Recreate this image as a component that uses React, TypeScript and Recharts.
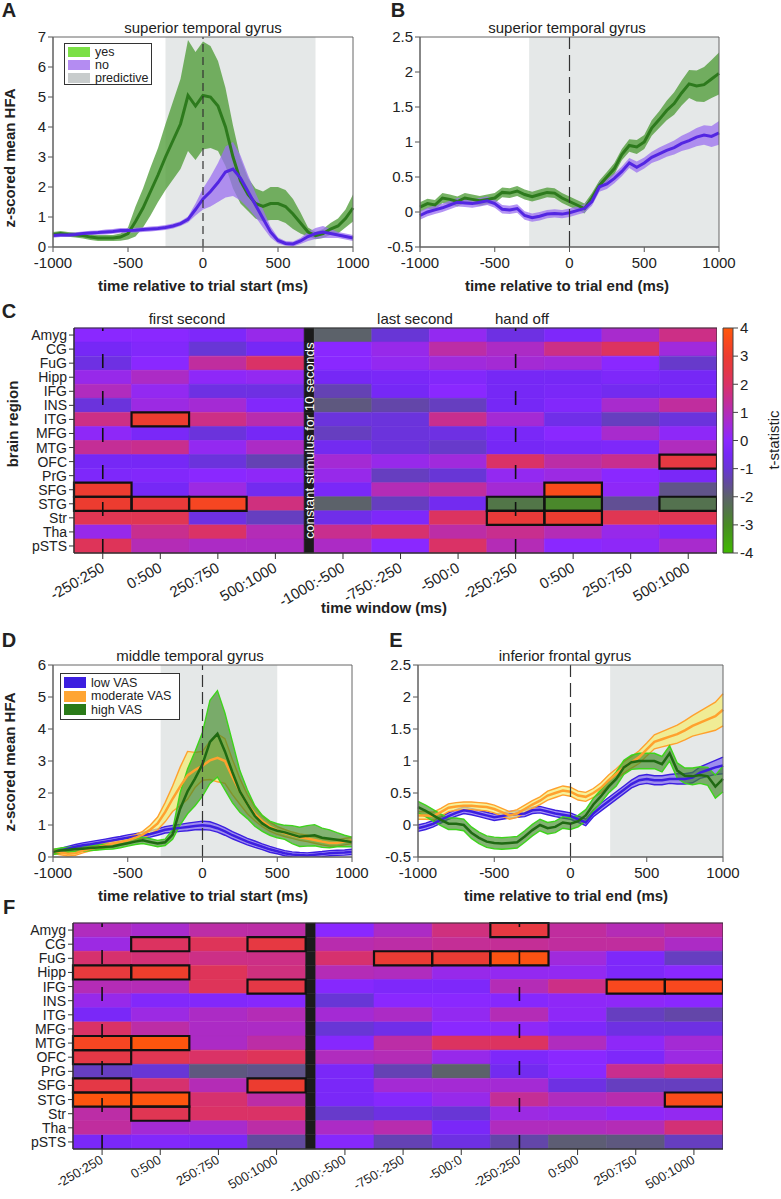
import React from "react";
import {
  ComposedChart,
  BarChart,
  Bar,
  Cell,
  Area,
  Line,
  XAxis,
  YAxis,
  ReferenceArea,
  ReferenceLine,
} from "recharts";

const FONT = "'Liberation Sans', Arial, Helvetica, sans-serif";

// ---------------------------------------------------------------------------
// time courses (ms relative to event) - every 50 ms
// ---------------------------------------------------------------------------
const TIME = [
  -1000, -950, -900, -850, -800, -750, -700, -650, -600, -550, -500,
  -450, -400, -350, -300, -250, -200, -150, -100, -50, 0,
  50, 100, 150, 200, 250, 300, 350, 400, 450, 500,
  550, 600, 650, 700, 750, 800, 850, 900, 950, 1000,
];
const TIME_TICKS = [-1000, -500, 0, 500, 1000];

// panel A - superior temporal gyrus, trial start
const A_YES_MEAN = [
  0.42, 0.45, 0.42, 0.4, 0.38, 0.33, 0.3, 0.3, 0.3, 0.33, 0.45,
  0.85, 1.3, 1.85, 2.4, 3.0, 3.55, 4.1, 5.05, 4.7, 5.05,
  5.0, 4.7, 4.0, 3.0, 2.2, 1.75, 1.45, 1.35, 1.45, 1.45,
  1.35, 1.1, 0.8, 0.5, 0.38, 0.45, 0.6, 0.7, 0.95, 1.3,
];
const A_YES_SEM = [
  0.08, 0.08, 0.08, 0.08, 0.1, 0.1, 0.1, 0.1, 0.1, 0.12, 0.2,
  0.5, 0.65, 0.8, 0.9, 1.1, 1.3, 1.5, 1.85, 1.8, 1.8,
  1.7, 1.5, 1.3, 1.05, 0.75, 0.55, 0.5, 0.5, 0.55, 0.55,
  0.55, 0.5, 0.35, 0.15, 0.12, 0.15, 0.2, 0.25, 0.3, 0.45,
];
const A_NO_MEAN = [
  0.38, 0.4, 0.4, 0.42, 0.45, 0.47, 0.48, 0.5, 0.52, 0.55, 0.55,
  0.56, 0.58, 0.6, 0.62, 0.65, 0.7, 0.78, 0.92, 1.25, 1.6,
  1.85, 2.15, 2.5, 2.6, 2.3, 1.85, 1.4, 0.95, 0.5, 0.22,
  0.12, 0.1, 0.2, 0.35, 0.45, 0.5, 0.45, 0.4, 0.35, 0.3,
];
const A_NO_SEM = [
  0.07, 0.07, 0.07, 0.07, 0.07, 0.07, 0.07, 0.08, 0.08, 0.08, 0.08,
  0.08, 0.08, 0.08, 0.08, 0.08, 0.08, 0.08, 0.1, 0.2, 0.35,
  0.5, 0.65, 0.85, 0.9, 0.75, 0.55, 0.4, 0.3, 0.18, 0.1,
  0.08, 0.08, 0.1, 0.15, 0.18, 0.2, 0.15, 0.1, 0.1, 0.1,
];

// panel B - superior temporal gyrus, trial end
const B_YES_MEAN = [
  0.07, 0.12, 0.1, 0.2, 0.18, 0.15, 0.2, 0.18, 0.16, 0.18, 0.2,
  0.28, 0.27, 0.3, 0.25, 0.22, 0.25, 0.28, 0.27, 0.2, 0.15,
  0.1, 0.05, 0.2, 0.38, 0.5, 0.62, 0.82, 0.95, 0.93, 1.0,
  1.2, 1.32, 1.45, 1.55, 1.7, 1.83, 1.8, 1.82, 1.9, 1.98,
];
const B_YES_SEM = [
  0.07, 0.07, 0.07, 0.07, 0.07, 0.07, 0.07, 0.07, 0.07, 0.07, 0.07,
  0.07, 0.07, 0.07, 0.07, 0.07, 0.07, 0.07, 0.07, 0.07, 0.07,
  0.07, 0.07, 0.07, 0.07, 0.07, 0.08, 0.08, 0.09, 0.1, 0.1,
  0.11, 0.12, 0.14, 0.16, 0.18, 0.2, 0.22, 0.25, 0.27, 0.3,
];
const B_NO_MEAN = [
  -0.05, 0.0, 0.03, 0.06, 0.1, 0.14, 0.13, 0.12, 0.14, 0.16, 0.12,
  0.04, 0.03, 0.05, -0.05, -0.08, -0.06, -0.03, -0.02, -0.03, -0.01,
  0.02, 0.05, 0.15, 0.36, 0.4, 0.48, 0.58, 0.7, 0.64, 0.7,
  0.78, 0.83, 0.88, 0.92, 0.98, 1.02, 1.07, 1.1, 1.08, 1.13,
];
const B_NO_SEM = [
  0.06, 0.06, 0.06, 0.06, 0.06, 0.06, 0.06, 0.06, 0.06, 0.06, 0.06,
  0.06, 0.06, 0.06, 0.06, 0.06, 0.06, 0.06, 0.06, 0.06, 0.06,
  0.06, 0.06, 0.06, 0.07, 0.07, 0.07, 0.07, 0.07, 0.08, 0.08,
  0.08, 0.09, 0.09, 0.1, 0.11, 0.12, 0.13, 0.14, 0.15, 0.17,
];

// panel D - middle temporal gyrus, trial start
const D_LOW_MEAN = [
  0.16, 0.2, 0.26, 0.32, 0.37, 0.4, 0.44, 0.48, 0.52, 0.56, 0.6,
  0.64, 0.68, 0.72, 0.78, 0.85, 0.88, 0.91, 0.94, 0.97, 0.99,
  0.97, 0.9, 0.8, 0.68, 0.58, 0.48, 0.4, 0.32, 0.24, 0.18,
  0.12, 0.08, 0.06, 0.05, 0.07, 0.09, 0.12, 0.13, 0.14, 0.16,
];
const D_LOW_SEM = [
  0.07, 0.07, 0.07, 0.07, 0.07, 0.08, 0.08, 0.08, 0.08, 0.08, 0.09,
  0.09, 0.09, 0.1, 0.1, 0.1, 0.11, 0.11, 0.12, 0.12, 0.13,
  0.13, 0.12, 0.12, 0.11, 0.11, 0.1, 0.1, 0.09, 0.09, 0.08,
  0.08, 0.08, 0.08, 0.08, 0.08, 0.08, 0.08, 0.08, 0.08, 0.08,
];
const D_MOD_MEAN = [
  0.18, 0.14, 0.1, 0.12, 0.2, 0.26, 0.3, 0.36, 0.42, 0.47, 0.52,
  0.6, 0.7, 0.85, 1.05, 1.4, 1.82, 2.2, 2.55, 2.72, 2.85,
  3.02, 3.1, 3.0, 2.5, 2.05, 1.65, 1.35, 1.12, 0.95, 0.83,
  0.75, 0.68, 0.62, 0.58, 0.53, 0.48, 0.44, 0.44, 0.48, 0.52,
];
const D_MOD_SEM = [
  0.07, 0.07, 0.07, 0.07, 0.07, 0.07, 0.07, 0.08, 0.08, 0.08, 0.09,
  0.09, 0.1, 0.14, 0.2, 0.3, 0.4, 0.6, 0.75, 0.55, 0.45,
  0.6, 0.75, 0.7, 0.55, 0.4, 0.3, 0.22, 0.17, 0.14, 0.12,
  0.11, 0.1, 0.1, 0.1, 0.1, 0.1, 0.1, 0.1, 0.1, 0.1,
];
const D_HIGH_MEAN = [
  0.16, 0.2, 0.23, 0.25, 0.26, 0.28, 0.3, 0.32, 0.33, 0.38, 0.43,
  0.48, 0.52, 0.47, 0.42, 0.46, 0.7, 1.5, 2.05, 2.45, 2.9,
  3.6, 3.85, 3.3, 2.65, 2.05, 1.65, 1.28, 1.05, 0.9, 0.82,
  0.77, 0.7, 0.63, 0.66, 0.68, 0.6, 0.57, 0.54, 0.5, 0.47,
];
const D_HIGH_SEM = [
  0.08, 0.08, 0.08, 0.08, 0.08, 0.08, 0.08, 0.08, 0.08, 0.09, 0.09,
  0.09, 0.1, 0.1, 0.1, 0.1, 0.15, 0.5, 0.7, 0.85, 1.0,
  1.3, 1.35, 1.2, 0.95, 0.65, 0.45, 0.32, 0.25, 0.22, 0.22,
  0.22, 0.28, 0.3, 0.32, 0.33, 0.3, 0.28, 0.22, 0.18, 0.15,
];

// panel E - inferior frontal gyrus, trial end
const E_LOW_MEAN = [
  -0.05, -0.02, 0.02, 0.08, 0.14, 0.19, 0.23, 0.21, 0.18, 0.15, 0.12,
  0.14, 0.16, 0.17, 0.18, 0.23, 0.24, 0.21, 0.18, 0.16, 0.14,
  0.09, 0.04, 0.18, 0.28, 0.37, 0.46, 0.55, 0.64, 0.7, 0.72,
  0.7, 0.7, 0.72, 0.72, 0.72, 0.74, 0.82, 0.86, 0.9, 0.93,
];
const E_LOW_SEM = [
  0.05, 0.05, 0.05, 0.05, 0.05, 0.05, 0.05, 0.05, 0.05, 0.05, 0.05,
  0.05, 0.05, 0.05, 0.05, 0.05, 0.05, 0.05, 0.05, 0.05, 0.05,
  0.05, 0.05, 0.05, 0.06, 0.06, 0.06, 0.06, 0.06, 0.07, 0.07,
  0.07, 0.07, 0.07, 0.08, 0.08, 0.08, 0.09, 0.1, 0.11, 0.13,
];
const E_MOD_MEAN = [
  0.15, 0.15, 0.14, 0.2, 0.27, 0.29, 0.3, 0.3, 0.29, 0.28, 0.25,
  0.2, 0.15, 0.18, 0.25, 0.32, 0.38, 0.46, 0.5, 0.54, 0.52,
  0.46, 0.44, 0.5, 0.58, 0.7, 0.8, 0.9, 0.98, 1.06, 1.18,
  1.3, 1.34, 1.38, 1.42, 1.48, 1.55, 1.6, 1.65, 1.7, 1.8,
];
const E_MOD_SEM = [
  0.06, 0.06, 0.06, 0.06, 0.06, 0.06, 0.06, 0.06, 0.06, 0.06, 0.06,
  0.06, 0.06, 0.06, 0.06, 0.06, 0.06, 0.07, 0.07, 0.07, 0.07,
  0.07, 0.07, 0.07, 0.08, 0.08, 0.08, 0.09, 0.09, 0.1, 0.1,
  0.11, 0.12, 0.13, 0.14, 0.15, 0.16, 0.18, 0.2, 0.22, 0.25,
];
const E_HIGH_MEAN = [
  0.28, 0.22, 0.15, 0.08, 0.02, 0.02, 0.0, -0.12, -0.2, -0.26, -0.28,
  -0.29, -0.28, -0.27, -0.18, -0.08, 0.0, -0.05, -0.03, 0.04, 0.02,
  0.06, 0.15, 0.32, 0.45, 0.6, 0.72, 0.9, 0.98, 1.0, 1.0,
  1.0, 0.95, 1.12, 0.85, 0.77, 0.76, 0.78, 0.76, 0.6, 0.72,
];
const E_HIGH_SEM = [
  0.09, 0.09, 0.09, 0.09, 0.09, 0.09, 0.09, 0.09, 0.09, 0.09, 0.09,
  0.09, 0.09, 0.09, 0.09, 0.09, 0.09, 0.09, 0.09, 0.09, 0.09,
  0.09, 0.09, 0.1, 0.1, 0.1, 0.11, 0.11, 0.11, 0.12, 0.12,
  0.12, 0.12, 0.12, 0.12, 0.12, 0.13, 0.13, 0.14, 0.18, 0.2,
];

// ---------------------------------------------------------------------------
// heatmaps (t-statistic per region x time window)
// ---------------------------------------------------------------------------
const REGIONS = [
  "Amyg", "CG", "FuG", "Hipp", "IFG", "INS", "ITG", "MFG",
  "MTG", "OFC", "PrG", "SFG", "STG", "Str", "Tha", "pSTS",
];
const WINDOWS = [
  "-250:250", "0:500", "250:750", "500:1000",
  "-1000:-500", "-750:-250", "-500:0", "-250:250", "0:500", "250:750", "500:1000",
];

const C_TSTAT = [
  [0, 0, -0.3, 0.3, -2, -1, 0.2, -0.8, -0.3, 0.7, 1.6],
  [-0.5, -0.2, -1, -0.5, 0, 0.3, 1.2, 0.8, 1.6, 2.1, 0.5],
  [-0.8, 0, 1.3, 2, 0, 0.2, 0.5, 0.6, 0.5, 0, -1.1],
  [0.3, 0.8, 0.1, 0.2, -0.5, -0.4, -0.2, -0.5, -0.5, -0.3, -0.5],
  [0.9, 0.2, -0.8, -0.8, -1.3, -0.5, 0, -0.5, -0.4, -0.6, -0.5],
  [-0.9, 0.4, 0.6, -0.2, -1.8, -1.4, -1.2, -0.5, -0.2, 0.7, 1.3],
  [1.6, 3.0, 1.6, 1.1, -0.9, -0.9, 1.5, 0.6, -0.7, -1.2, -0.9],
  [0.1, -0.4, -0.9, -0.5, -1.2, -0.9, -0.8, -0.4, 0, 0.7, 0.1],
  [1.4, 1.5, 0.2, 0.8, -0.6, -0.9, -1.1, -0.5, -0.4, -0.3, 0.9],
  [-0.5, -0.5, -0.9, -1.3, 0.6, 0.3, 0.5, 2.0, 1.2, 1.5, 2.6],
  [-0.3, -0.2, 0, 0.1, 0.3, -1.2, -1.0, 0.2, 0.4, 0, -0.4],
  [3.0, -0.5, 0.4, -0.6, -0.4, 1.0, 1.3, 0.6, 3.6, 0.1, -1.7],
  [3.0, 2.8, 3.4, 1.7, -2.0, -1.2, -0.6, -2.5, -2.9, -1.6, -2.4],
  [2.3, 2.3, -0.8, -1.2, -0.7, -0.3, 2.1, 2.8, 3.0, 2.3, 2.3],
  [0.3, 1.5, 2.0, 1.0, 1.5, 1.9, 1.2, 1.5, 1.0, 0.3, -0.3],
  [2.2, 1.0, 0.8, 0.8, 0.8, 0, 2.0, 1.0, 0, 0.1, 0.7],
];
// significant cells: [region index, window index]
const C_SIG = [
  [6, 1], [11, 0], [12, 0], [12, 1], [12, 2],
  [9, 10], [11, 8], [12, 7], [12, 8], [12, 10], [13, 7], [13, 8],
];

const F_TSTAT = [
  [0.9, 0.7, 1.2, 1.2, 0, 0.8, 1.7, 2.6, 1.3, 1.0, 1.3],
  [0.4, 2.1, 2.2, 2.6, 1.1, 1.2, 1.4, 1.4, 1.3, 1.3, 0.8],
  [1.9, 1.8, 1.6, 1.6, 1.9, 2.9, 2.9, 3.8, 0.5, -0.3, -1.2],
  [2.7, 3.1, 2.2, 1.7, 1.0, 0.9, 0.3, 0.2, 0.2, -0.3, 0],
  [1.0, 1.0, 2.2, 2.5, -0.1, -0.3, -0.3, 1.0, 1.6, 3.5, 3.5],
  [0.3, -0.2, -0.2, -0.1, -1.0, 0, 0, -0.1, 0.1, 0.1, 0],
  [-0.4, 0.4, 0.8, 1.0, 0.6, 0.8, 0.2, 1.0, 0.1, -1.2, -1.4],
  [2.0, 1.2, 0.8, 0.8, -1.0, -0.7, 0, 0.1, -0.3, -0.8, -0.8],
  [3.4, 3.9, 0.8, 1.2, -0.1, 1.2, 2.1, 2.1, 0.9, 0.1, 0.6],
  [2.5, 2.3, 2.0, 2.2, 0.9, 1.0, 0.3, -0.3, 0, -0.3, 0.4],
  [-1.2, -1.0, -1.8, -1.7, -0.4, -1.3, -2.0, -0.6, 0, 1.5, 1.9],
  [2.5, 1.9, 1.0, 3.0, -0.4, 0.6, 0.6, 0.6, -0.8, -1.2, -1.2],
  [3.9, 3.9, 1.9, 1.2, -0.4, -0.1, 0.3, 1.4, 0.9, 1.1, 3.6],
  [1.2, 2.3, 2.0, 2.0, -1.1, -0.8, -1.0, 0.4, 0.3, 0.1, 0.2],
  [1.3, 0.6, 0.7, 1.2, 0.8, 1.1, -0.4, 0.9, 0.9, 1.0, 1.8],
  [-0.4, -0.2, -0.4, -1.5, -0.1, -1.3, -0.8, -1.4, -1.9, -1.8, -1.2],
];
const F_SIG = [
  [0, 7], [1, 1], [1, 3], [2, 5], [2, 6], [2, 7], [3, 0], [3, 1],
  [4, 3], [4, 9], [4, 10], [8, 0], [8, 1], [9, 0], [11, 0], [11, 3],
  [12, 0], [12, 1], [12, 10], [13, 1],
];

const CBAR_TICKS = [-4, -3, -2, -1, 0, 1, 2, 3, 4];

// colormap stops: t-statistic -> rgb
const T_STOPS: [number, number[]][] = [
  [-4, [64, 186, 0]],
  [-3, [72, 140, 36]],
  [-2.5, [82, 118, 72]],
  [-2, [92, 98, 106]],
  [-1.5, [98, 74, 158]],
  [-1, [104, 54, 214]],
  [-0.5, [118, 40, 246]],
  [0, [138, 40, 255]],
  [0.5, [160, 42, 220]],
  [1, [180, 44, 182]],
  [1.5, [200, 46, 142]],
  [2, [218, 50, 102]],
  [2.5, [228, 56, 70]],
  [3, [236, 60, 48]],
  [3.5, [248, 72, 30]],
  [4, [255, 88, 10]],
];

function tColor(t: number) {
  const v = Math.max(-4, Math.min(4, t));
  for (let i = 0; i < T_STOPS.length - 1; i++) {
    const [t0, c0] = T_STOPS[i];
    const [t1, c1] = T_STOPS[i + 1];
    if (v >= t0 && v <= t1) {
      const f = (v - t0) / (t1 - t0);
      const c = c0.map((a, j) => Math.round(a + (c1[j] - a) * f));
      return `rgb(${c.join(",")})`;
    }
  }
  return "rgb(138,40,255)";
}

// the black "constant stimulus" gap, in units of one window column
const GAP = 0.175;
const X_MAX = WINDOWS.length + GAP;
const colStart = (k: number) => (k < 4 ? k : k + GAP);
const HEAT_TICKS = WINDOWS.map((_, k) => colStart(k) + 0.5);

// ---------------------------------------------------------------------------
// helpers
// ---------------------------------------------------------------------------
type Series = {
  key: string;
  mean: number[];
  sem: number[];
  line: string;
  band: string;
  bandOpacity: number;
  edge?: string;
  width: number;
};

function buildRows(series: Series[]) {
  return TIME.map((t, i) => {
    const row: Record<string, any> = { t };
    series.forEach((s) => {
      row[s.key] = s.mean[i];
      row[s.key + "Band"] = [s.mean[i] - s.sem[i], s.mean[i] + s.sem[i]];
    });
    return row;
  });
}

function Txt({ x, y, children, size = 15, weight = 400, rotate = 0, color = "#222" }: any) {
  return (
    <div
      style={{
        position: "absolute",
        left: x,
        top: y,
        transform: `translate(-50%, -50%) rotate(${rotate}deg)`,
        fontSize: size,
        fontWeight: weight,
        color,
        whiteSpace: "nowrap",
        lineHeight: 1,
      }}
    >
      {children}
    </div>
  );
}

function LegendBox({ x, y, w, h, items, rowGap, swH }: any) {
  return (
    <div
      style={{
        position: "absolute",
        left: x,
        top: y,
        width: w,
        height: h,
        border: "1px solid #333",
        background: "#fff",
        boxSizing: "border-box",
      }}
    >
      {items.map((it: any, i: number) => (
        <div
          key={it.label}
          style={{
            position: "absolute",
            left: 3,
            top: 2 + i * rowGap,
            height: rowGap,
            display: "flex",
            alignItems: "center",
            fontSize: 12.5,
            color: "#222",
            whiteSpace: "nowrap",
          }}
        >
          <span style={{ width: 22, height: swH, background: it.color, marginRight: 5, display: "inline-block" }} />
          {it.label}
        </div>
      ))}
    </div>
  );
}

const tickStyle = { fontSize: 15, fill: "#222" };
const rowTickStyle = { fontSize: 14, fill: "#222" };

function LinePanel({
  left, top, width, height, marginTop, marginRight, yAxisWidth, xAxisHeight,
  series, yDomain, yTicks, shade, dash,
}: any) {
  const rows = buildRows(series);
  return (
    <div style={{ position: "absolute", left, top }}>
      <ComposedChart
        width={width}
        height={height}
        data={rows}
        margin={{ top: marginTop, right: marginRight, bottom: 0, left: 0 }}
      >
        <ReferenceArea
          x1={shade[0]}
          x2={shade[1]}
          y1={yDomain[0]}
          y2={yDomain[1]}
          fill="#e5e8e8"
          fillOpacity={1}
          stroke="none"
          zIndex={-20}
        />
        <XAxis
          type="number"
          dataKey="t"
          domain={[-1000, 1000]}
          ticks={TIME_TICKS}
          height={xAxisHeight}
          tick={tickStyle}
          stroke="#555"
          tickSize={5}
          tickMargin={5}
        />
        <YAxis
          type="number"
          domain={yDomain}
          ticks={yTicks}
          width={yAxisWidth}
          allowDataOverflow
          tick={tickStyle}
          stroke="#555"
          tickSize={5}
        />
        {series.map((s: Series) => (
          <Area
            key={s.key + "Band"}
            dataKey={s.key + "Band"}
            type="linear"
            fill={s.band}
            fillOpacity={s.bandOpacity}
            stroke={s.edge ?? "none"}
            strokeWidth={1.4}
            dot={false}
            activeDot={false}
            isAnimationActive={false}
          />
        ))}
        {series.map((s: Series) => (
          <Line
            key={s.key}
            dataKey={s.key}
            type="linear"
            stroke={s.line}
            strokeWidth={s.width}
            dot={false}
            activeDot={false}
            isAnimationActive={false}
          />
        ))}
        <ReferenceLine x={0} stroke="#333" strokeWidth={1.2} strokeDasharray={dash} zIndex={450} />
        <ReferenceArea
          x1={-1000}
          x2={1000}
          y1={yDomain[0]}
          y2={yDomain[1]}
          fill="none"
          stroke="#666"
          strokeWidth={1}
          zIndex={700}
        />
      </ComposedChart>
    </div>
  );
}

function WindowTick({ x, y, payload, fs = 15, lift = 0 }: any) {
  let k = HEAT_TICKS.indexOf(payload.value);
  if (k < 0) {
    let best = Infinity;
    HEAT_TICKS.forEach((v, i) => {
      if (Math.abs(v - payload.value) < best) {
        best = Math.abs(v - payload.value);
        k = i;
      }
    });
  }
  return (
    <g transform={`translate(${x - 3},${y - lift}) rotate(-30)`}>
      <text textAnchor="end" dy="0.75em" fontSize={fs} fill="#222">
        {WINDOWS[k]}
      </text>
    </g>
  );
}

function Heatmap({
  left, top, width, height, marginTop, marginRight, yAxisWidth, xAxisHeight, tstat, sig, stimText, tickFont, tickLift,
}: any) {
  const rows = REGIONS.map((region) => {
    const row: Record<string, any> = { region, gap: GAP };
    WINDOWS.forEach((_, k) => (row["c" + k] = 1));
    return row;
  });
  const bars: React.ReactNode[] = [];
  WINDOWS.forEach((_, k) => {
    if (k === 4) {
      bars.push(
        <Bar key="gap" dataKey="gap" stackId="h" fill="#1b1b1b" stroke="#1b1b1b" strokeWidth={0.6} isAnimationActive={false} />
      );
    }
    bars.push(
      <Bar key={"c" + k} dataKey={"c" + k} stackId="h" isAnimationActive={false}>
        {REGIONS.map((r, i) => {
          const c = tColor(tstat[i][k]);
          return <Cell key={r} fill={c} stroke={c} strokeWidth={0.6} />;
        })}
      </Bar>
    );
  });
  return (
    <div style={{ position: "absolute", left, top }}>
      <BarChart
        layout="vertical"
        width={width}
        height={height}
        data={rows}
        barCategoryGap={0}
        barGap={0}
        margin={{ top: marginTop, right: marginRight, bottom: 0, left: 0 }}
      >
        <XAxis
          type="number"
          domain={[0, X_MAX]}
          ticks={HEAT_TICKS}
          height={xAxisHeight}
          tick={<WindowTick fs={tickFont} lift={tickLift} />}
          stroke="#333"
          tickSize={6}
          interval={0}
        />
        <YAxis
          type="category"
          dataKey="region"
          width={yAxisWidth}
          tick={rowTickStyle}
          stroke="#333"
          tickSize={5}
          interval={0}
        />
        {bars}
        {stimText && (
          <ReferenceArea
            x1={4}
            x2={4 + GAP}
            y1={REGIONS[0]}
            y2={REGIONS[REGIONS.length - 1]}
            fill="none"
            stroke="none"
            zIndex={800}
            label={{ value: stimText, angle: -90, position: "center", fill: "#fff", fontSize: 13.5 }}
          />
        )}
        {sig.map(([r, k]: number[]) => (
          <ReferenceArea
            key={`${r}-${k}`}
            x1={colStart(k)}
            x2={colStart(k) + 1}
            y1={REGIONS[r]}
            y2={REGIONS[r]}
            fill="none"
            stroke="#111"
            strokeWidth={2.2}
            zIndex={600}
          />
        ))}
        <ReferenceLine x={HEAT_TICKS[0]} stroke="#111" strokeWidth={1.6} strokeDasharray="14 23" zIndex={650} />
        <ReferenceLine x={HEAT_TICKS[7]} stroke="#111" strokeWidth={1.6} strokeDasharray="14 23" zIndex={650} />
        <ReferenceArea
          x1={0}
          x2={X_MAX}
          y1={REGIONS[0]}
          y2={REGIONS[REGIONS.length - 1]}
          fill="none"
          stroke="#333"
          strokeWidth={1}
          zIndex={700}
        />
      </BarChart>
    </div>
  );
}

function ColorBar() {
  const data = [{ name: "t", range: [CBAR_TICKS[0], CBAR_TICKS[CBAR_TICKS.length - 1]] }];
  return (
    <div style={{ position: "absolute", left: 715, top: 300 }}>
      <BarChart width={66} height={320} data={data} barCategoryGap={0} margin={{ top: 28, right: 8, bottom: 67, left: 8 }}>
        <defs>
          <linearGradient id="tstatGrad" x1="0" y1="0" x2="0" y2="1">
            {T_STOPS.slice()
              .reverse()
              .map(([t, c]) => (
                <stop key={t} offset={`${((4 - t) / 8) * 100}%`} stopColor={`rgb(${c.join(",")})`} />
              ))}
          </linearGradient>
        </defs>
        <XAxis type="category" dataKey="name" hide />
        <YAxis
          type="number"
          orientation="right"
          domain={[-4, 4]}
          ticks={CBAR_TICKS}
          width={40}
          tick={tickStyle}
          stroke="#444"
          axisLine={false}
          tickSize={5}
        />
        <Bar dataKey="range" fill="url(#tstatGrad)" stroke="#444" strokeWidth={1} isAnimationActive={false} />
      </BarChart>
    </div>
  );
}

// ---------------------------------------------------------------------------
// series styles
// ---------------------------------------------------------------------------
const YES = { line: "#2d7a1d", band: "#4a9a32", bandOpacity: 0.75, width: 3 };
const NO = { line: "#5326e2", band: "#9b70f0", bandOpacity: 0.75, width: 3 };
const LOW = { line: "#3c1fe0", band: "#8068f0", bandOpacity: 0.7, edge: "#3c1fe0", width: 2.5 };
const MOD = { line: "#ffa12e", band: "#f3ee7a", bandOpacity: 0.75, edge: "#ffa12e", width: 2.5 };
const HIGH = { line: "#1f6a12", band: "#3f8a26", bandOpacity: 0.65, edge: "#3ed41c", width: 2.5 };

export default function App() {
  return (
    <div
      style={{
        position: "absolute",
        left: 0,
        top: 0,
        width: 781,
        height: 1199,
        background: "#fff",
        fontFamily: FONT,
        color: "#222",
        overflow: "hidden",
      }}
    >
      {/* ---------------- A ---------------- */}
      <LinePanel
        left={0}
        top={0}
        width={380}
        height={300}
        marginTop={37}
        marginRight={27}
        yAxisWidth={53}
        xAxisHeight={53}
        yDomain={[0, 7]}
        yTicks={[0, 1, 2, 3, 4, 5, 6, 7]}
        shade={[-250, 750]}
        dash="8 5"
        series={[
          { key: "yes", mean: A_YES_MEAN, sem: A_YES_SEM, ...YES },
          { key: "no", mean: A_NO_MEAN, sem: A_NO_SEM, ...NO },
        ]}
      />
      <LegendBox
        x={64}
        y={43}
        w={88}
        h={42}
        rowGap={12.8}
        swH={10}
        items={[
          { label: "yes", color: "#7be045" },
          { label: "no", color: "#b48cf2" },
          { label: "predictive", color: "#c8cccc" },
        ]}
      />
      <Txt x={9} y={10} size={20} weight={700}>A</Txt>
      <Txt x={203} y={27}>superior temporal gyrus</Txt>
      <Txt x={203} y={285} weight={700}>time relative to trial start (ms)</Txt>
      <Txt x={9} y={158} weight={700} rotate={-90}>z-scored mean HFA</Txt>

      {/* ---------------- B ---------------- */}
      <LinePanel
        left={370}
        top={0}
        width={375}
        height={300}
        marginTop={37}
        marginRight={26}
        yAxisWidth={50}
        xAxisHeight={53}
        yDomain={[-0.5, 2.5]}
        yTicks={[-0.5, 0, 0.5, 1, 1.5, 2, 2.5]}
        shade={[-270, 1000]}
        dash="16 6"
        series={[
          { key: "yes", mean: B_YES_MEAN, sem: B_YES_SEM, ...YES },
          { key: "no", mean: B_NO_MEAN, sem: B_NO_SEM, ...NO },
        ]}
      />
      <Txt x={398} y={10} size={20} weight={700}>B</Txt>
      <Txt x={567} y={27}>superior temporal gyrus</Txt>
      <Txt x={567} y={285} weight={700}>time relative to trial end (ms)</Txt>

      {/* ---------------- C ---------------- */}
      <Heatmap
        left={0}
        top={300}
        width={717}
        height={320}
        marginTop={28}
        marginRight={0}
        yAxisWidth={74}
        xAxisHeight={67}
        tstat={C_TSTAT}
        sig={C_SIG}
        tickFont={15}
        tickLift={0}
        stimText="constant stimulus for 10 seconds"
      />
      <ColorBar />
      <Txt x={9} y={311} size={20} weight={700}>C</Txt>
      <Txt x={187} y={318}>first second</Txt>
      <Txt x={415} y={318}>last second</Txt>
      <Txt x={522} y={318}>hand off</Txt>
      <Txt x={12} y={424} weight={700} rotate={-90}>brain region</Txt>
      <Txt x={384} y={607} weight={700}>time window (ms)</Txt>
      <Txt x={773} y={440} rotate={-90}>t-statistic</Txt>

      {/* ---------------- D ---------------- */}
      <LinePanel
        left={0}
        top={620}
        width={380}
        height={300}
        marginTop={45}
        marginRight={28}
        yAxisWidth={53}
        xAxisHeight={63}
        yDomain={[0, 6]}
        yTicks={[0, 1, 2, 3, 4, 5, 6]}
        shade={[-280, 500]}
        dash="12 5"
        series={[
          { key: "low", mean: D_LOW_MEAN, sem: D_LOW_SEM, ...LOW },
          { key: "mod", mean: D_MOD_MEAN, sem: D_MOD_SEM, ...MOD },
          { key: "high", mean: D_HIGH_MEAN, sem: D_HIGH_SEM, ...HIGH },
        ]}
      />
      <LegendBox
        x={60}
        y={673}
        w={120}
        h={47}
        rowGap={13.6}
        swH={11}
        items={[
          { label: "low VAS", color: "#3c1fe0" },
          { label: "moderate VAS", color: "#ffa533" },
          { label: "high VAS", color: "#2a7a18" },
        ]}
      />
      <Txt x={9} y={640} size={20} weight={700}>D</Txt>
      <Txt x={190} y={655}>middle temporal gyrus</Txt>
      <Txt x={203} y={895} weight={700}>time relative to trial start (ms)</Txt>
      <Txt x={9} y={762} weight={700} rotate={-90}>z-scored mean HFA</Txt>

      {/* ---------------- E ---------------- */}
      <LinePanel
        left={370}
        top={620}
        width={380}
        height={300}
        marginTop={45}
        marginRight={27}
        yAxisWidth={48}
        xAxisHeight={63}
        yDomain={[-0.5, 2.5]}
        yTicks={[-0.5, 0, 0.5, 1, 1.5, 2, 2.5]}
        shade={[260, 1000]}
        dash="14 6"
        series={[
          { key: "low", mean: E_LOW_MEAN, sem: E_LOW_SEM, ...LOW },
          { key: "mod", mean: E_MOD_MEAN, sem: E_MOD_SEM, ...MOD },
          { key: "high", mean: E_HIGH_MEAN, sem: E_HIGH_SEM, ...HIGH },
        ]}
      />
      <Txt x={396} y={640} size={20} weight={700}>E</Txt>
      <Txt x={565} y={655}>inferior frontal gyrus</Txt>
      <Txt x={566} y={895} weight={700}>time relative to trial end (ms)</Txt>

      {/* ---------------- F ---------------- */}
      <Heatmap
        left={0}
        top={895}
        width={723}
        height={304}
        marginTop={28}
        marginRight={0}
        yAxisWidth={73}
        xAxisHeight={50}
        tstat={F_TSTAT}
        sig={F_SIG}
        tickFont={13}
        tickLift={3}
      />
      <Txt x={9} y={907} size={20} weight={700}>F</Txt>
    </div>
  );
}
